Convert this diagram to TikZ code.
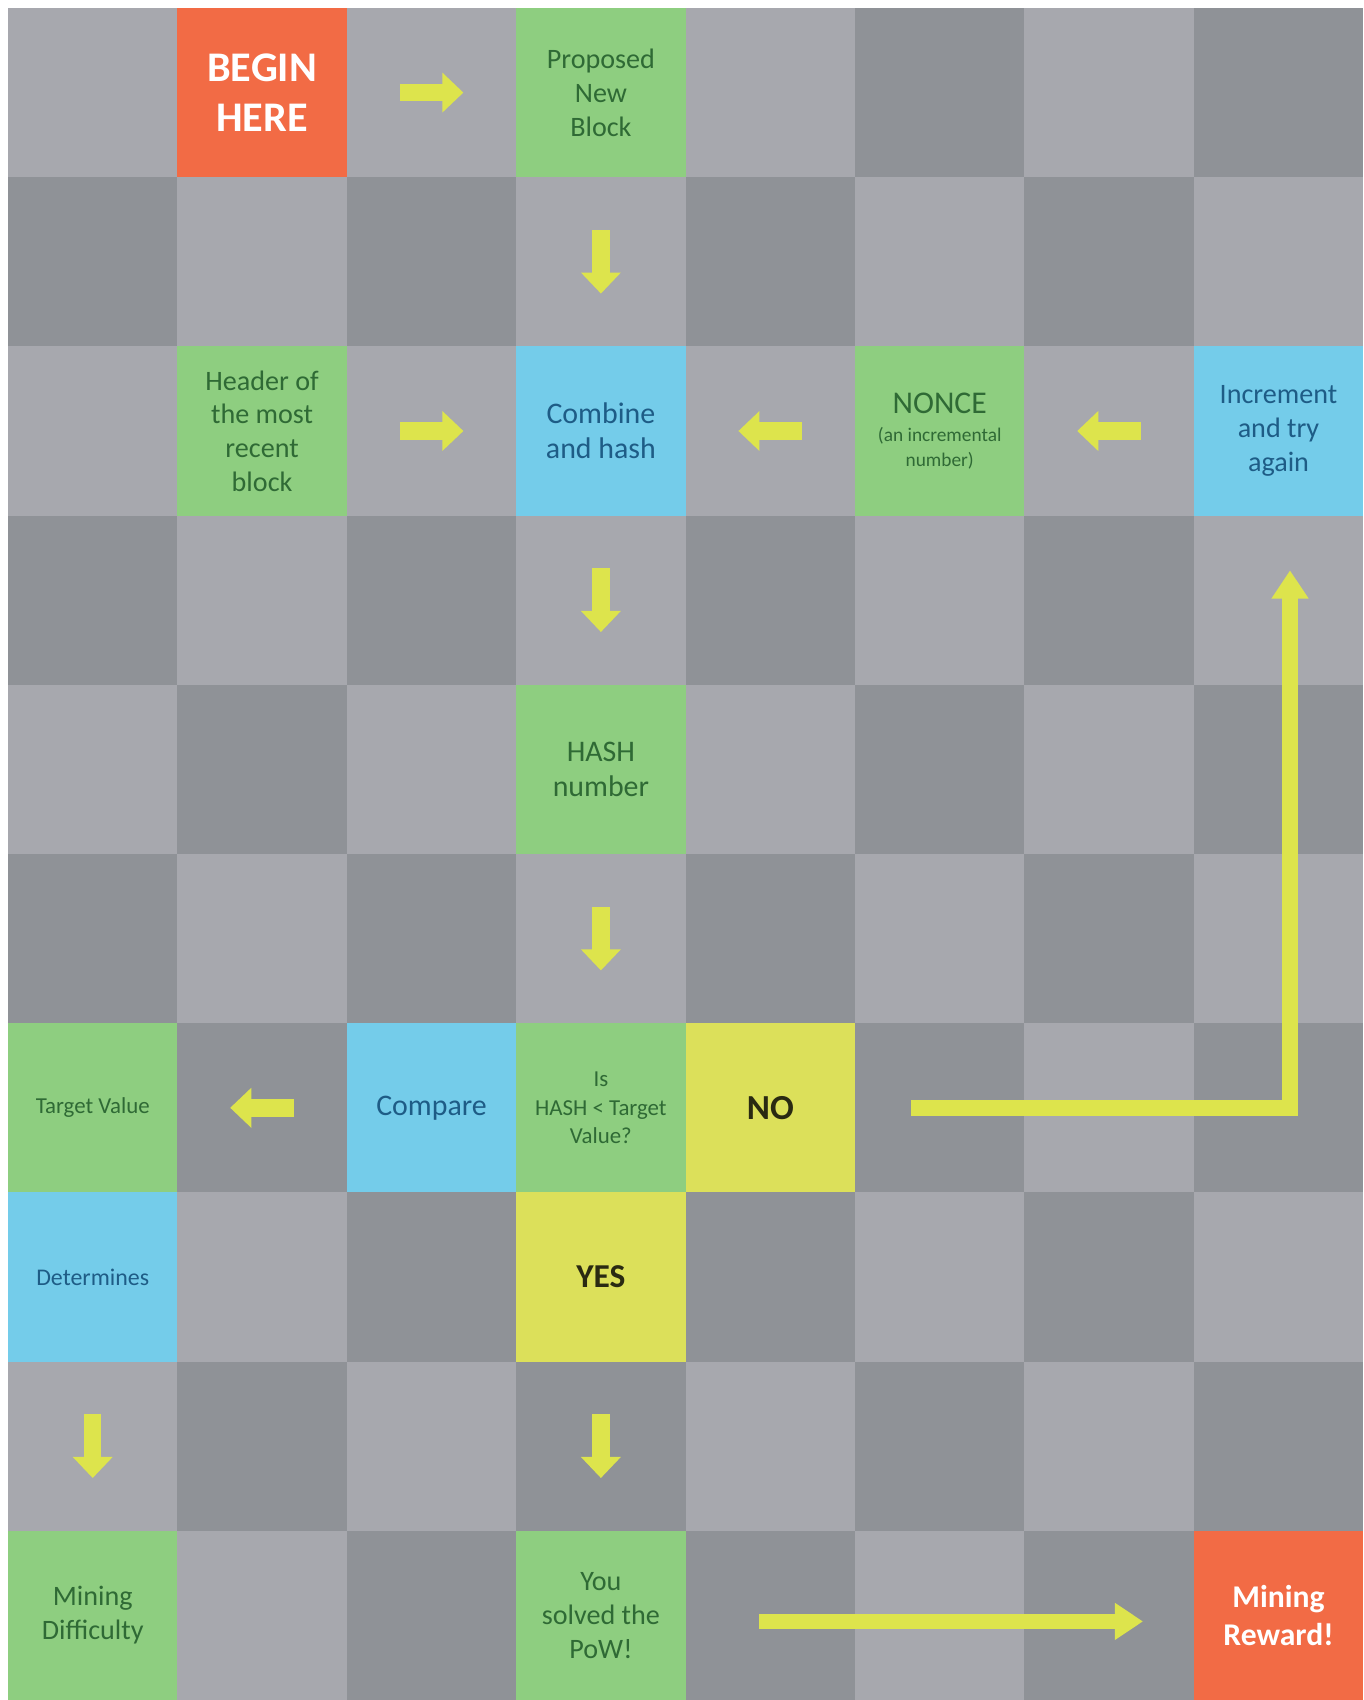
\documentclass[tikz,border=0pt]{standalone}
\usepackage{fontspec}
\setmainfont{Carlito}
\usetikzlibrary{arrows.meta}
\definecolor{grayA}{HTML}{A7A8AE}
\definecolor{grayB}{HTML}{8F9297}
\definecolor{orangeC}{HTML}{F26B45}
\definecolor{greenC}{HTML}{8ECE80}
\definecolor{blueC}{HTML}{74CCEA}
\definecolor{yellowC}{HTML}{DCE05A}
\definecolor{arrowC}{HTML}{DDE44C}
\definecolor{greenT}{HTML}{2F6A35}
\definecolor{blueT}{HTML}{1E5C86}
\definecolor{darkT}{HTML}{2A2A12}

\begin{document}
\begin{tikzpicture}[x=0.01cm, y=-0.01cm]
% Stile nodi
\tikzstyle{cell} = [
    rectangle,
    minimum width=1.694cm,
    minimum height=1.692cm,
    inner sep=0pt,
    align=center,
    font={\fontsize{8}{9.6}\selectfont}
]
\tikzstyle{cellg} = [cell, fill=greenC, text=greenT]
\tikzstyle{cellb} = [cell, fill=blueC, text=blueT]
\tikzstyle{celly} = [cell, fill=yellowC, text=darkT, font={\fontsize{10}{12}\selectfont\bfseries}]
\tikzstyle{cello} = [cell, fill=orangeC, text=white]
\tikzstyle{blk} = [
    draw=arrowC,
    line width=5pt,
    -{Triangle[length=6pt,width=11pt]},
    shorten <=0.52cm,
    shorten >=0.52cm
]
\tikzstyle{longblk} = [
    draw=arrowC,
    line width=4.5pt,
    -{Triangle[length=8pt,width=10pt]}
]

% Scacchiera
\useasboundingbox (0,0) rectangle (1363,1700);
\fill[white] (0,0) rectangle (1363,1700);
\fill[grayB] (8,8) rectangle (1363.2,1700);
\foreach \r in {0,...,9}{
  \foreach \c in {0,2,4,6}{
    \pgfmathtruncatemacro{\cc}{\c+mod(\r,2)}
    \fill[grayA] (8+169.4*\cc,8+169.2*\r) rectangle ++(169.4,169.2);
  }
}

% Nodi
\node[cello, font={\fontsize{12}{14}\selectfont\bfseries}] (begin) at (262.1,92.6)
{BEGIN\\HERE};

\node[cellg] (newblock) at (600.9,92.6)
{Proposed\\New\\Block};

\node[cellg] (header) at (262.1,431)
{Header of\\the most\\recent\\block};

\node[cellb, font={\fontsize{8.5}{10}\selectfont}] (combine) at (600.9,431)
{Combine\\and hash};

\node[cellg] (nonce) at (939.7,431)
{{\fontsize{9}{10}\selectfont NONCE}\\[-1.5pt]{\fontsize{5.5}{7}\selectfont (an incremental}\\[-2.5pt]{\fontsize{5.5}{7}\selectfont number)}};

\node[cellb] (incr) at (1278.5,431)
{Increment\\and try\\again};

\node[cellg, font={\fontsize{8.5}{10}\selectfont}] (hash) at (600.9,769.4)
{HASH\\number};

\node[cellg, font={\fontsize{6.5}{8}\selectfont}] (target) at (92.7,1107.8)
{Target Value};

\node[cellb, font={\fontsize{8.5}{10}\selectfont}] (compare) at (431.5,1107.8)
{Compare};

\node[cellg, font={\fontsize{6.5}{8}\selectfont}] (check) at (600.9,1107.8)
{Is\\HASH < Target\\Value?};

\node[celly] (no) at (770.3,1107.8)
{NO};

\node[cellb, font={\fontsize{6.8}{8}\selectfont}] (determ) at (92.7,1277)
{Determines};

\node[celly, font={\fontsize{9.5}{11}\selectfont\bfseries}] (yes) at (600.9,1277)
{YES};

\node[cellg] (difficulty) at (92.7,1615.4)
{Mining\\Difficulty};

\node[cellg] (solved) at (600.9,1615.4)
{You\\solved the\\PoW!};

\node[cello, font={\fontsize{9}{11}\selectfont\bfseries}] (reward) at (1278.5,1615.4)
{Mining\\Reward!};

% Frecce
\draw[blk] (begin) -- (newblock);

\draw[blk] (newblock) -- (combine);

\draw[blk] (header) -- (combine);

\draw[blk] (nonce) -- (combine);

\draw[blk] (incr) -- (nonce);

\draw[blk] (combine) -- (hash);

\draw[blk] (hash) -- (check);

\draw[blk] (compare) -- (target);

\draw[blk] (determ) -- (difficulty);

\draw[blk] (yes) -- (solved);

\draw[longblk, shorten <=0.55cm, shorten >=0.54cm] (no.east) -| ([xshift=0.115cm]incr.south);

\draw[longblk, shorten <=0.73cm, shorten >=0.5cm] ([yshift=-0.06cm]solved.east) -- ([yshift=-0.06cm]reward.west);

\end{tikzpicture}
\end{document}
